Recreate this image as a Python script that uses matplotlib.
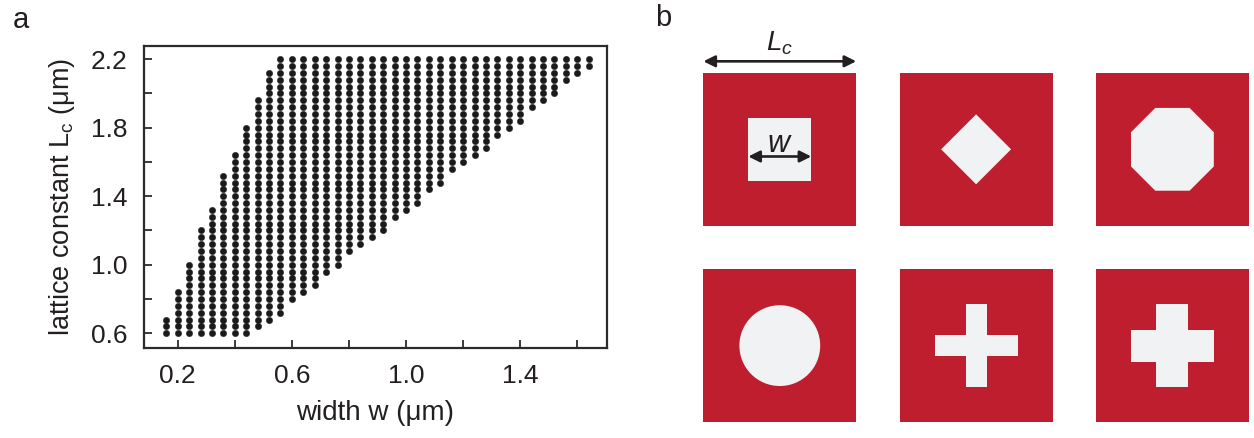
import numpy as np
import matplotlib
matplotlib.use("Agg")
import matplotlib.pyplot as plt
from matplotlib.patches import Rectangle, RegularPolygon, Circle, FancyArrowPatch

plt.rcParams['font.family'] = ['Liberation Sans', 'DejaVu Sans']
plt.rcParams['mathtext.fontset'] = 'custom'
plt.rcParams['mathtext.rm'] = 'Liberation Sans'
plt.rcParams['mathtext.it'] = 'Liberation Sans:italic'

# allowed (w, Lc) combinations: for each width, the lowest and highest lattice constant
widths = [0.16, 0.20, 0.24, 0.28, 0.32, 0.36, 0.40, 0.44, 0.48, 0.52,
          0.56, 0.60, 0.64, 0.68, 0.72, 0.76, 0.80, 0.84, 0.88, 0.92,
          0.96, 1.00, 1.04, 1.08, 1.12, 1.16, 1.20, 1.24, 1.28, 1.32,
          1.36, 1.40, 1.44, 1.48, 1.52, 1.56, 1.60, 1.64]
lc_min = [0.60, 0.60, 0.60, 0.60, 0.60, 0.60, 0.60, 0.60, 0.64, 0.68,
          0.72, 0.80, 0.84, 0.88, 0.96, 1.00, 1.08, 1.12, 1.16, 1.20,
          1.28, 1.32, 1.36, 1.44, 1.48, 1.56, 1.60, 1.64, 1.68, 1.76,
          1.80, 1.84, 1.92, 1.96, 2.00, 2.08, 2.12, 2.16]
lc_max = [0.68, 0.84, 1.00, 1.20, 1.32, 1.52, 1.64, 1.80, 1.96, 2.12,
          2.20, 2.20, 2.20, 2.20, 2.20, 2.20, 2.20, 2.20, 2.20, 2.20,
          2.20, 2.20, 2.20, 2.20, 2.20, 2.20, 2.20, 2.20, 2.20, 2.20,
          2.20, 2.20, 2.20, 2.20, 2.20, 2.20, 2.20, 2.20]
lc_step = 0.04

xticks = [0.2, 0.4, 0.6, 0.8, 1.0, 1.2, 1.4, 1.6]
xticklabels = ['0.2', '', '0.6', '', '1.0', '', '1.4', '']
yticks = [0.6, 0.8, 1.0, 1.2, 1.4, 1.6, 1.8, 2.0, 2.2]
yticklabels = ['0.6', '', '1.0', '', '1.4', '', '1.8', '', '2.2']

xs, ys = [], []
for w, lo, hi in zip(widths, lc_min, lc_max):
    n = int(round((hi - lo) / lc_step)) + 1
    col = lo + lc_step * np.arange(n)
    xs.extend([w] * n)
    ys.extend(col)

fig = plt.figure(figsize=(12.54, 4.38), dpi=100)

# ---- panel a
ax = fig.add_axes([0.1151, 0.2048, 0.3687, 0.6909])
ax.scatter(xs, ys, s=21, color='#1a1a1a', edgecolors='#1a1a1a', linewidths=0.3)
ax.set_xlim(0.083, 1.703)
ax.set_ylim(0.512, 2.279)
ax.set_xticks(xticks)
ax.set_xticklabels(xticklabels)
ax.set_yticks(yticks)
ax.set_yticklabels(yticklabels)
for s in ax.spines.values():
    s.set_linewidth(1.6)
    s.set_color('#2b2b2b')
ax.tick_params(direction='in', length=6, width=1.3, color='#2b2b2b',
               labelsize=19, labelcolor='#231f20')
ax.tick_params(axis='y', pad=12)
ax.tick_params(axis='x', pad=11)
ax.set_xlabel('width w (\u03bcm)', fontsize=20, color='#231f20', labelpad=9)
ax.set_ylabel('lattice constant L$_\\mathrm{c}$ (\u03bcm)', fontsize=19.5,
              color='#231f20', labelpad=10)

fig.text(0.010, 0.955, 'a', fontsize=21, color='#231f20', va='center')
fig.text(0.522, 0.960, 'b', fontsize=21, color='#231f20', va='center')

# ---- panel b: unit cells, side length = Lc = 1
red = '#be1e2d'
hole = '#f1f2f4'
ink = '#231f20'
pitch = 1.285
bx = fig.add_axes([0.5606, 0.0365, 0.4356, 0.797])
bx.set_xlim(0, 2 * pitch + 1)
bx.set_ylim(0, pitch + 1)
bx.set_aspect('equal')
bx.axis('off')

w_sq = 0.412          # square hole
d_dia = 0.229         # half diagonal of diamond
f_oct = 0.542         # octagon width across flats
d_circ = 0.529        # circle diameter
arm = 0.542           # cross arm length
t_thin, t_thick = 0.137, 0.209

centers = {}
for r in range(2):
    for c in range(3):
        x0, y0 = c * pitch, (1 - r) * pitch
        bx.add_patch(Rectangle((x0, y0), 1, 1, color=red, lw=0))
        centers[(r, c)] = (x0 + 0.5, y0 + 0.5)

cx, cy = centers[(0, 0)]
bx.add_patch(Rectangle((cx - w_sq / 2, cy - w_sq / 2), w_sq, w_sq, color=hole, lw=0))
cx, cy = centers[(0, 1)]
bx.add_patch(RegularPolygon((cx, cy), 4, radius=d_dia, orientation=0, color=hole, lw=0))
cx, cy = centers[(0, 2)]
bx.add_patch(RegularPolygon((cx, cy), 8, radius=f_oct / 2 / np.cos(np.pi / 8),
                            orientation=np.pi / 8, color=hole, lw=0))
cx, cy = centers[(1, 0)]
bx.add_patch(Circle((cx, cy), d_circ / 2, color=hole, lw=0))
for (r, c), t in [((1, 1), t_thin), ((1, 2), t_thick)]:
    cx, cy = centers[(r, c)]
    bx.add_patch(Rectangle((cx - arm / 2, cy - t / 2), arm, t, color=hole, lw=0))
    bx.add_patch(Rectangle((cx - t / 2, cy - arm / 2), t, arm, color=hole, lw=0))

# dimension arrows on the first cell
x0, y0 = 0, pitch
ya = y0 + 1 + 0.076
bx.add_patch(FancyArrowPatch((x0, ya), (x0 + 1, ya), arrowstyle='<|-|>',
                             mutation_scale=17, lw=1.9, color=ink,
                             shrinkA=0, shrinkB=0, clip_on=False))
bx.text(x0 + 0.5, y0 + 1 + 0.145, '$L_c$', fontsize=20, color=ink,
        ha='center', va='baseline', clip_on=False)
cx, cy = centers[(0, 0)]
yw = cy - 0.047
bx.add_patch(FancyArrowPatch((cx - w_sq / 2, yw), (cx + w_sq / 2, yw), arrowstyle='<|-|>',
                             mutation_scale=17, lw=1.9, color=ink,
                             shrinkA=0, shrinkB=0))
bx.text(cx, cy - 0.02, '$w$', fontsize=22, color=ink, ha='center', va='baseline')

fig.savefig('out.png', dpi=100)
